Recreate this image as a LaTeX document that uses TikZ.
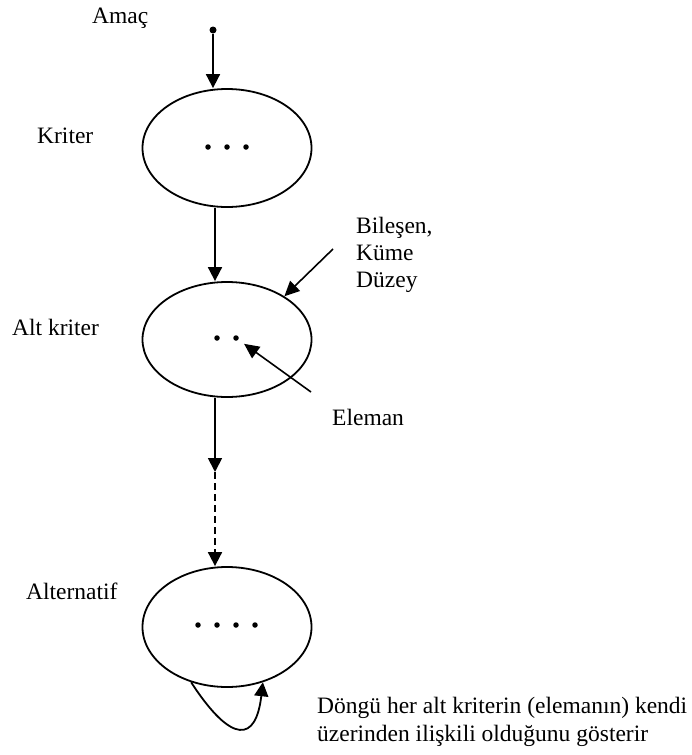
\documentclass[tikz,border=0pt]{standalone}
\usepackage{fontspec}
\setmainfont{Liberation Serif}
\usetikzlibrary{shapes.geometric,arrows.meta}

\begin{document}
\begin{tikzpicture}[x=1pt,y=-1pt,
  font=\fontsize{23.5}{27}\selectfont,
  level/.style={draw,line width=1.8pt,ellipse,minimum width=169pt,minimum height=118pt,inner sep=0pt},
  elem/.style={circle,fill,inner sep=0pt,minimum size=5.5pt},
  label/.style={anchor=base west,inner sep=0pt,align=left},
  link/.style={line width=1.8pt,-{Triangle[length=14pt,width=14pt]}},
  pointer/.style={line width=1.6pt,-{Triangle[length=15pt,width=14pt]}}]
  \useasboundingbox (0,0) rectangle (691,755);

  % hierarchy levels
  \node[level] (crit) at (227,148) {};
  \node[level,minimum height=115pt] (sub) at (227,339.5) {};
  \node[level,minimum height=120pt] (alt) at (227,627) {};

  % elements inside each level
  \node[elem,minimum size=7pt] (goal) at (213,30) {};
  \node[elem] (c1) at (208,147) {};
  \node[elem] (c2) at (227,147) {};
  \node[elem] (c3) at (246,147) {};
  \node[elem] (s1) at (217,338) {};
  \node[elem] (s2) at (236,338) {};
  \node[elem] (a1) at (198,625) {};
  \node[elem] (a2) at (217,625) {};
  \node[elem] (a3) at (236,625) {};
  \node[elem] (a4) at (255,625) {};

  % labels (multi-line labels are anchored on their last line)
  \node[label] (tgoal) at (92,23) {Amaç};
  \node[label] (tcrit) at (37,143) {Kriter};
  \node[label] (tsub) at (12,335) {Alt kriter};
  \node[label] (talt) at (26,599) {Alternatif};
  \node[label] (tcomp) at (356,287) {Bileşen,\\Küme\\Düzey};
  \node[label] (telem) at (332,425) {Eleman};
  \node[label,font=\fontsize{23.5}{28}\selectfont] (tloop) at (317,741)
    {Döngü her alt kriterin (elemanın) kendi\\üzerinden ilişkili olduğunu gösterir};

  % vertical axis of the hierarchy
  \coordinate (axis) at (215,0);
  \coordinate (mid) at (215,472);
  \coordinate (cstart) at (333,249);
  \coordinate (estart) at (311,392);

  % connectors
  \draw[link] (goal) -- (crit.north -| goal);
  \draw[link] (crit.south -| axis) -- (sub.north -| axis);
  \draw[link] (sub.south -| axis) -- (mid);
  \draw[link,dash pattern=on 7pt off 4pt] (mid) -- (alt.north -| axis);
  \draw[pointer] (cstart) -- (sub.37);
  \draw[pointer,shorten >=7pt] (estart) -- (s2);
  \draw[link] (alt.-123) .. controls (232,745) and (256,742) .. (alt.-57);
\end{tikzpicture}
\end{document}
